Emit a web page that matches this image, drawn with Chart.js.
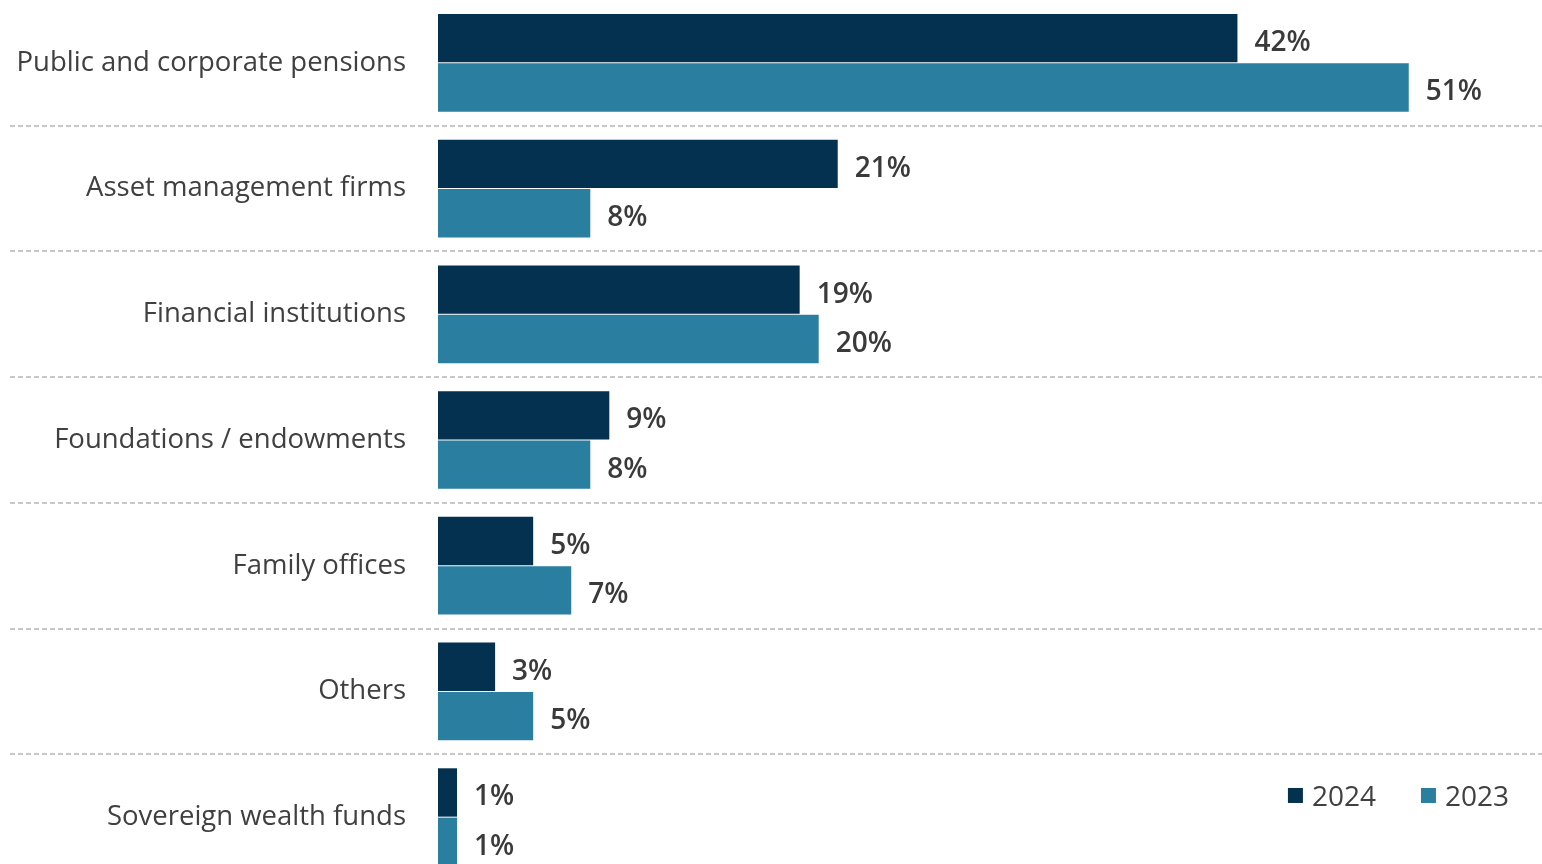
<!DOCTYPE html>
<html>
<head>
<meta charset="utf-8">
<script src="https://cdn.jsdelivr.net/npm/chart.js@4.4.1/dist/chart.umd.min.js"></script>
<style>
  html, body { margin: 0; padding: 0; background: #fff; overflow: hidden; }
  #chart-wrapper { width: 1542px; height: 880px; position: relative; }
</style>
</head>
<body>
<div id="chart-wrapper">
  <canvas id="myChart"></canvas>
</div>
<script>
const categories = [
  'Public and corporate pensions',
  'Asset management firms',
  'Financial institutions',
  'Foundations / endowments',
  'Family offices',
  'Others',
  'Sovereign wealth funds',
];
const seriesNames = ['2024', '2023'];
const values2024 = [42, 21, 19, 9, 5, 3, 1];
const values2023 = [51, 8, 20, 8, 7, 5, 1];

const DARK = '#03314f';
const TEAL = '#2a7ea0';
const TEXT = '#404040';
const FONT = "'Open Sans', 'Noto Sans', sans-serif";

// dashed separators between category rows, running under the labels too
const rowLines = {
  id: 'rowLines',
  beforeDatasetsDraw(chart) {
    const { ctx, scales: { y } } = chart;
    ctx.save();
    ctx.strokeStyle = '#c8c8c8';
    ctx.lineWidth = 2;
    ctx.setLineDash([5, 3]);
    for (let i = 0; i < categories.length - 1; i++) {
      const yy = Math.round((y.getPixelForValue(i) + y.getPixelForValue(i + 1)) / 2);
      ctx.beginPath();
      ctx.moveTo(10, yy);
      ctx.lineTo(chart.width, yy);
      ctx.stroke();
    }
    ctx.restore();
  },
};

// percentage labels at the end of every bar
const barValues = {
  id: 'barValues',
  afterDatasetsDraw(chart) {
    const { ctx } = chart;
    ctx.save();
    ctx.font = `600 28px ${FONT}`;
    ctx.fillStyle = '#3a3a3a';
    ctx.textAlign = 'left';
    ctx.textBaseline = 'middle';
    chart.data.datasets.forEach((ds, di) => {
      chart.getDatasetMeta(di).data.forEach((bar, i) => {
        ctx.fillText(ds.data[i] + '%', bar.x + 17, bar.y + 5);
      });
    });
    ctx.restore();
  },
};

// legend tucked into the last row, right aligned
const cornerLegend = {
  id: 'cornerLegend',
  afterDraw(chart) {
    const { ctx, chartArea } = chart;
    const last = chart.getDatasetMeta(0).data[categories.length - 1];
    const cy = last.y + 6;
    ctx.save();
    ctx.font = `28px ${FONT}`;
    ctx.textBaseline = 'middle';
    const box = 15, gapBox = 9, gapItem = 45;
    const widths = chart.data.datasets.map(ds => ctx.measureText(ds.label).width);
    let total = 0;
    widths.forEach((w, i) => { total += box + gapBox + w + (i ? gapItem : 0); });
    let x = chartArea.right - 33 - total;
    chart.data.datasets.forEach((ds, i) => {
      ctx.fillStyle = ds.backgroundColor;
      ctx.fillRect(x, cy - box / 2 - 3, box, box);
      x += box + gapBox;
      ctx.fillStyle = TEXT;
      ctx.fillText(ds.label, x, cy);
      x += widths[i] + gapItem;
    });
    ctx.restore();
  },
};

const ctx = document.getElementById('myChart').getContext('2d');
new Chart(ctx, {
  type: 'bar',
  data: {
    labels: categories,
    datasets: [
      {
        label: seriesNames[0],
        data: values2024,
        backgroundColor: DARK,
        categoryPercentage: 0.785,
        barPercentage: 0.98,
      },
      {
        label: seriesNames[1],
        data: values2023,
        backgroundColor: TEAL,
        categoryPercentage: 0.785,
        barPercentage: 0.98,
      },
    ],
  },
  options: {
    indexAxis: 'y',
    responsive: true,
    maintainAspectRatio: false,
    animation: false,
    layout: { padding: 0 },
    plugins: {
      legend: { display: false },
      tooltip: { enabled: false },
    },
    scales: {
      x: {
        display: false,
        min: 0,
        max: 58,
      },
      y: {
        border: { display: false },
        grid: { display: false, drawTicks: false },
        afterFit(scale) {
          scale.width = 438;
          // rows run edge to edge, no room reserved for half labels
          scale.paddingTop = 0;
          scale.paddingBottom = 0;
        },
        ticks: {
          padding: 32,
          color: TEXT,
          font: { family: FONT, size: 27.5 },
        },
      },
    },
  },
  plugins: [rowLines, barValues, cornerLegend],
});
</script>
</body>
</html>
